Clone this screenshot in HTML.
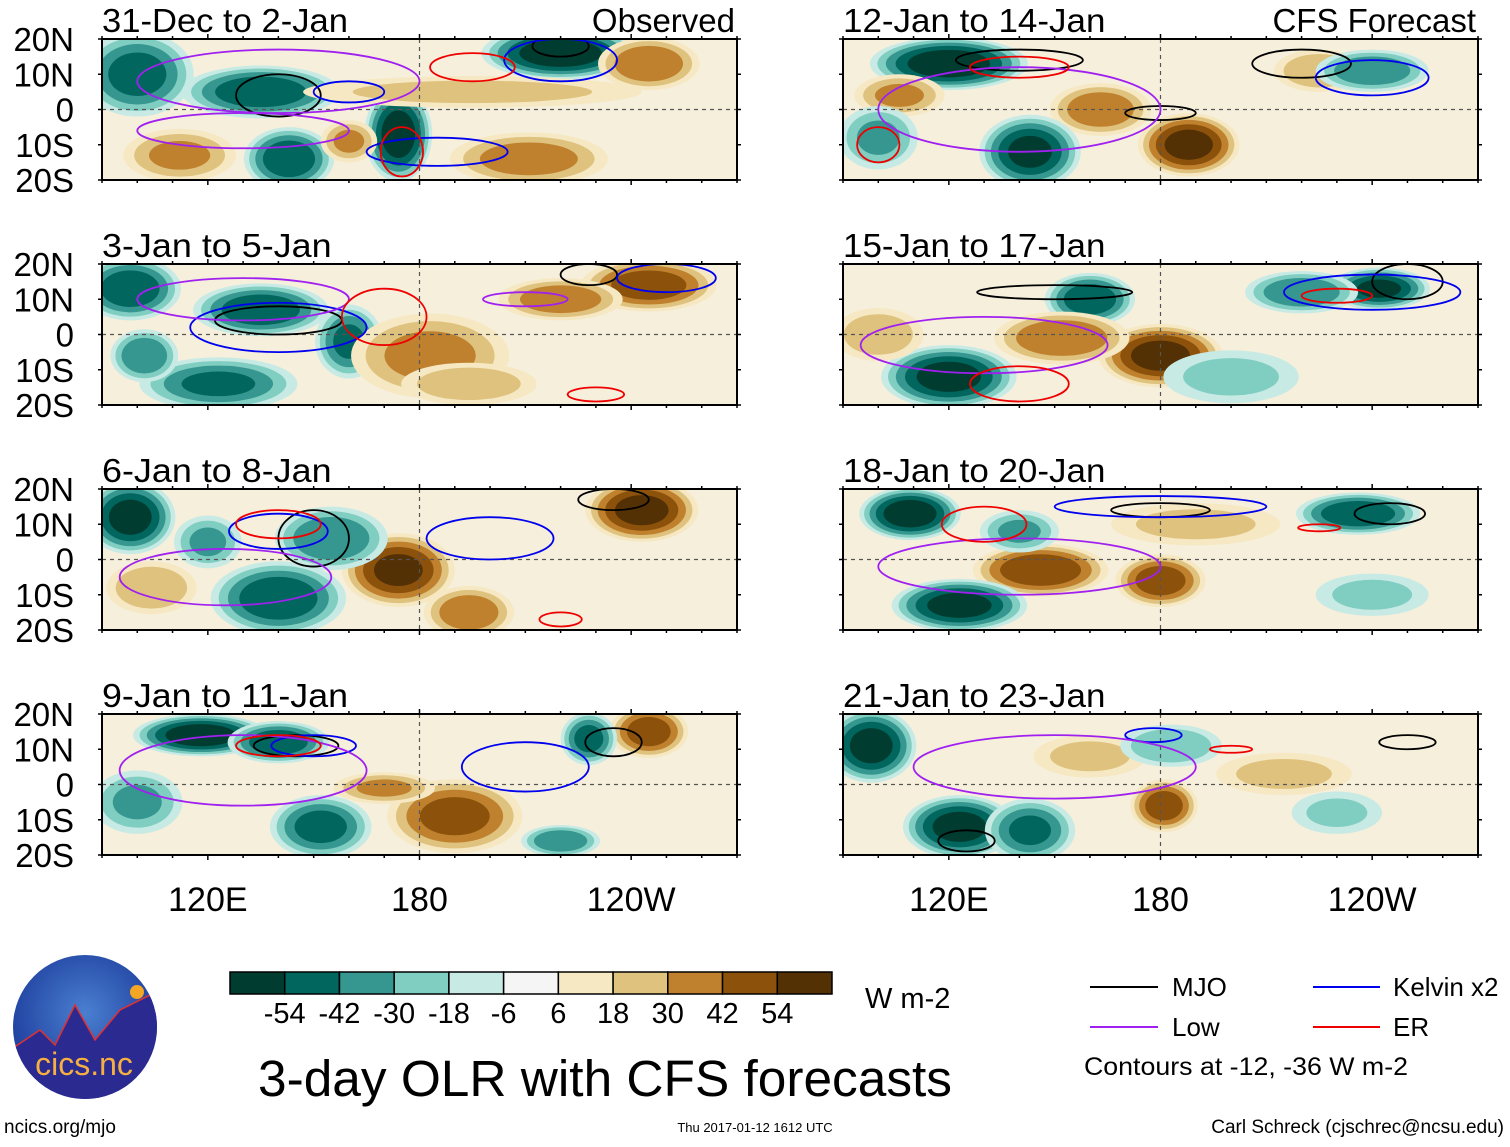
<!DOCTYPE html>
<html><head><meta charset="utf-8"><style>
body{margin:0;background:#fff;width:1510px;height:1142px;overflow:hidden;font-family:"Liberation Sans",sans-serif}
svg text{font-family:"Liberation Sans",sans-serif}
</style></head><body>
<svg id="chart" width="1510" height="1142" xmlns="http://www.w3.org/2000/svg"></svg>
<script>
const panelTitles=["31-Dec to 2-Jan","3-Jan to 5-Jan","6-Jan to 8-Jan","9-Jan to 11-Jan","12-Jan to 14-Jan","15-Jan to 17-Jan","18-Jan to 20-Jan","21-Jan to 23-Jan"];
// blobs: [lon, lat, anomaly W m-2, half-width deg lon, half-height deg lat]
const blobs0=[[220,16,-62,14,5],[100,10,-45,10,8],[135,5,-50,14,5],[245,13,40,9,5],[174,-7,-60,6,9],[211,-14,35,14,5],[143,-14,-50,8,6],[112,-13,30,10,5],[195,5,20,30,3],[160,-9,30,5,4]];
const blobs1=[[245,14,48,12,5],[220,10,38,11,4],[98,13,-50,9,6],[135,7,-50,12,5],[160,-2,-42,6,7],[183,-6,32,14,8],[123,-14,-42,14,5],[194,-14,25,12,4],[102,-6,-40,6,5]];
const blobs2=[[243,14,58,10,6],[174,-3,55,10,7],[98,12,-58,8,7],[155,6,-40,10,6],[140,-11,-50,12,7],[104,-8,28,8,5],[194,-15,38,8,5],[120,5,-30,6,5]];
const blobs3=[[118,14,-62,12,4],[140,12,-50,9,4],[245,15,48,7,5],[228,13,-45,5,5],[190,-9,45,12,7],[152,-12,-45,9,6],[220,-16,-40,7,3],[170,-1,30,9,3],[100,-5,-30,8,6]];
const blobs4=[[120,13,-62,14,5],[188,-10,58,9,6],[163,0,38,9,5],[225,11,28,8,4],[240,11,-40,10,4],[143,-12,-55,9,7],[106,4,30,8,4],[100,-8,-30,7,6]];
const blobs5=[[160,10,-50,8,5],[242,13,-55,9,4],[220,12,-40,10,4],[180,-6,58,11,6],[152,-1,40,12,5],[120,-12,-58,12,6],[200,-12,-20,12,5],[100,0,25,8,5]];
const blobs6=[[109,13,-62,9,5],[236,13,-52,11,4],[146,-3,52,12,5],[180,-6,48,8,5],[123,-13,-58,12,5],[140,8,-30,7,4],[190,10,20,15,4],[240,-10,-20,10,4]];
const blobs7=[[98,11,-58,8,7],[181,-6,48,6,5],[123,-12,-58,10,6],[143,-13,-42,8,6],[160,8,20,10,4],[183,11,-28,9,4],[215,3,20,12,4],[230,-8,-18,8,4]];
const allBlobs=[blobs0,blobs1,blobs2,blobs3,blobs4,blobs5,blobs6,blobs7];
// contours: [kind, lon, lat, half-width, half-height]
const cont0=[["mjo",140,4,12,6],["mjo",220,18,8,3],["kelvin",220,14,16,6],["kelvin",160,5,10,3],["kelvin",185,-12,20,4],["low",140,8,40,9],["low",130,-6,30,5],["er",195,12,12,4],["er",175,-12,6,7]];
const cont1=[["mjo",140,4,18,4],["mjo",228,17,8,3],["kelvin",250,16,14,4],["kelvin",140,2,25,7],["low",130,10,30,6],["low",210,10,12,2],["er",170,5,12,8],["er",230,-17,8,2]];
const cont2=[["mjo",150,6,10,8],["mjo",235,17,10,3],["kelvin",200,6,18,6],["kelvin",140,8,14,5],["low",125,-5,30,8],["er",140,10,12,4],["er",220,-17,6,2]];
const cont3=[["mjo",145,11,12,3],["mjo",235,12,8,4],["kelvin",210,5,18,7],["kelvin",150,11,12,3],["low",130,4,35,10],["er",140,11,12,3]];
const cont4=[["mjo",220,13,14,4],["mjo",140,14,18,3],["mjo",180,-1,10,2],["kelvin",240,9,16,5],["low",140,0,40,12],["er",140,12,14,3],["er",100,-10,6,5]];
const cont5=[["mjo",150,12,22,2],["mjo",250,15,10,5],["kelvin",240,12,25,5],["low",130,-3,35,8],["er",140,-14,14,5],["er",230,11,10,2]];
const cont6=[["mjo",180,14,14,2],["mjo",245,13,10,3],["kelvin",180,15,30,3],["low",140,-2,40,8],["er",130,10,12,5],["er",225,9,6,1]];
const cont7=[["mjo",250,12,8,2],["mjo",125,-16,8,3],["kelvin",178,14,8,2],["low",150,5,40,9],["er",200,10,6,1]];
const allConts=[cont0,cont1,cont2,cont3,cont4,cont5,cont6,cont7];
const levels=[-54,-42,-30,-18,-6,6,18,30,42,54];
const colors=["#003c30","#01665e","#35978f","#80cdc1","#c7eae5","#f5f5f5","#f6e8c3","#dfc27d","#bf812d","#8c510a","#543005"];
const cbLabels=["-54","-42","-30","-18","-6","6","18","30","42","54"];

const NS="http://www.w3.org/2000/svg";
const svg=document.getElementById('chart');
function mk(tag,attrs,parent){const e=document.createElementNS(NS,tag);for(const k in attrs)e.setAttribute(k,attrs[k]);(parent||svg).appendChild(e);return e;}
const PW=635,PH=141;
const colLeft=[102,843],rowTop=[39,264,489,714];
function xScale(x0,lon){return x0+(lon-90)/180*PW;}
function yScale(y0,lat){return y0+(20-lat)/40*PH;}
function colorFor(v){let i=0;while(i<levels.length&&v>=levels[i])i++;return colors[i];}
const contColor={mjo:"#000",kelvin:"#0000ee",low:"#a020f0",er:"#ee0000"};

for(let p=0;p<8;p++){
  const x0=colLeft[p<4?0:1],y0=rowTop[p%4];
  const g=mk('g',{});
  
  
  const cid='clip'+p;
  const cp=mk('clipPath',{id:cid},g);mk('rect',{x:x0,y:y0,width:PW,height:PH},cp);
  const inner=mk('g',{'clip-path':'url(#'+cid+')'},g);
  mk('rect',{x:x0,y:y0,width:PW,height:PH,fill:"#f6efdc"},inner);
  for(const b of allBlobs[p]){
    const v=b[2],av=Math.abs(v),sgn=v<0?-1:1;
    const cx=xScale(x0,b[0]),cy=yScale(y0,b[1]);
    const rx=b[3]/180*PW,ry=b[4]/40*PH;
    const lv=[6,18,30,42,54];
    for(const L of lv){
      if(av<L)break;
      const s=Math.sqrt(1-(L-6)/(av+4));
      const e=mk('ellipse',{cx:cx,cy:cy,rx:rx*s*1.6,ry:ry*s*1.5,fill:colorFor(sgn*(L+1))},inner);
      
      
    }
  }
  mk('line',{x1:x0,x2:x0+PW,y1:yScale(y0,0),y2:yScale(y0,0),stroke:"#555","stroke-dasharray":"4,4","stroke-width":1.2},inner);
  mk('line',{x1:xScale(x0,180),x2:xScale(x0,180),y1:y0,y2:y0+PH,stroke:"#555","stroke-dasharray":"4,4","stroke-width":1.2},inner);
  for(const c of allConts[p]){
    const e=mk('ellipse',{cx:xScale(x0,c[1]),cy:yScale(y0,c[2]),rx:c[3]/180*PW,ry:c[4]/40*PH,fill:"none",stroke:contColor[c[0]],"stroke-width":1.8},inner);
    
    
  }
  mk('rect',{x:x0,y:y0,width:PW,height:PH,fill:"none",stroke:"#000","stroke-width":2},g);
  for(let lon=90;lon<=270;lon+=10){
    const x=xScale(x0,lon),big=(lon%60===0);
    mk('line',{x1:x,x2:x,y1:y0-(big?5:3),y2:y0,stroke:"#000","stroke-width":1.5},g);
    mk('line',{x1:x,x2:x,y1:y0+PH,y2:y0+PH+(big?5:3),stroke:"#000","stroke-width":1.5},g);
  }
  for(let lat=-20;lat<=20;lat+=10){
    const y=yScale(y0,lat);
    mk('line',{x1:x0-4,x2:x0,y1:y,y2:y,stroke:"#000","stroke-width":1.5},g);
    mk('line',{x1:x0+PW,x2:x0+PW+4,y1:y,y2:y,stroke:"#000","stroke-width":1.5},g);
  }
  const t=mk('text',{x:x0,y:y0-7,'font-size':33,textLength:(panelTitles[p].length*16.4),lengthAdjust:"spacingAndGlyphs"},g);t.textContent=panelTitles[p];
  
  
  if(p%4===0){const r=mk('text',{x:x0+PW-2,y:y0-7,'font-size':33,'text-anchor':'end'},g);r.textContent=p===0?"Observed":"CFS Forecast";}
  if(p<4){
  const latLab=["20N","10N","0","10S","20S"];
  latLab.forEach((s,i)=>{const tt=mk('text',{x:x0-28,y:y0+i*PH/4+12,'font-size':33,'text-anchor':'end'},g);tt.textContent=s;
    });
  }
}
[[102],[843]].forEach(([x0])=>{
  [["120E",120],["180",180],["120W",240]].forEach(([s,l])=>{const t=mk('text',{x:xScale(x0,l),y:911,'font-size':34,'text-anchor':'middle'});t.textContent=s;
    });
});
const cb=mk('g',{});
const cbx=230,cbw=602/11;
colors.forEach((c,i)=>mk('rect',{x:cbx+i*cbw,y:972,width:cbw,height:22,fill:c,stroke:"#000","stroke-width":1.5},cb));
cbLabels.forEach((s,i)=>{const t=mk('text',{x:cbx+(i+1)*cbw,y:1023,'font-size':29,'text-anchor':'middle'},cb);t.textContent=s;});
</script>
<svg style="position:absolute;left:0;top:0" width="1510" height="1142">
<text x="865" y="1008" font-size="29">W m-2</text>
<text x="605" y="1096" font-size="51" text-anchor="middle" textLength="694" lengthAdjust="spacingAndGlyphs">3-day OLR with CFS forecasts</text>
<text x="4" y="1133" font-size="19">ncics.org/mjo</text>
<text x="755" y="1132" font-size="13" text-anchor="middle">Thu 2017-01-12 1612 UTC</text>
<text x="1504" y="1133" font-size="19" text-anchor="end">Carl Schreck (cjschrec@ncsu.edu)</text>
<g>
<line x1="1090" x2="1158" y1="987" y2="987" stroke="#000" stroke-width="2"/><text x="1172" y="996" font-size="26">MJO</text>
<line x1="1090" x2="1158" y1="1027" y2="1027" stroke="#a020f0" stroke-width="2"/><text x="1172" y="1036" font-size="26">Low</text>
<line x1="1313" x2="1380" y1="987" y2="987" stroke="#0000ee" stroke-width="2"/><text x="1393" y="996" font-size="26">Kelvin x2</text>
<line x1="1313" x2="1380" y1="1027" y2="1027" stroke="#ee0000" stroke-width="2"/><text x="1393" y="1036" font-size="26">ER</text>
<text x="1084" y="1075" font-size="25" textLength="324" lengthAdjust="spacingAndGlyphs">Contours at -12, -36 W m-2</text>
</g>
<g>
<defs><radialGradient id="lg" cx="0.5" cy="0.4" r="0.6"><stop offset="0" stop-color="#4a7fd0"/><stop offset="1" stop-color="#1a3a9a"/></radialGradient><clipPath id="lc"><circle cx="85" cy="1027" r="72"/></clipPath></defs>
<circle cx="85" cy="1027" r="72" fill="url(#lg)"/>
<path clip-path="url(#lc)" d="M10,1050 L40,1030 L55,1045 L75,1005 L95,1040 L120,1010 L160,990 L160,1110 L10,1110Z" fill="#2a2a90" stroke="#e03030" stroke-width="1.5"/>
<circle cx="137" cy="992" r="7" fill="#f5a623"/>
<text x="84" y="1075" font-size="32" fill="#f5b041" text-anchor="middle">cics.nc</text>
</g>
</svg>
</body></html>
